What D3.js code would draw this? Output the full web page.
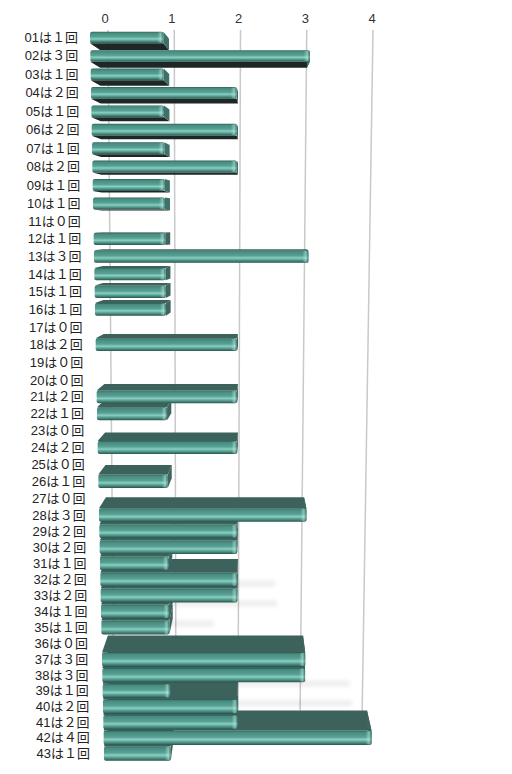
<!DOCTYPE html>
<html>
<head>
<meta charset="utf-8">
<script src="https://cdn.jsdelivr.net/npm/d3@7"></script>
<style>
  html, body { margin: 0; padding: 0; background: #fff; }
  svg { display: block; }
  text { font-family: "Liberation Sans", "Noto Sans CJK JP", sans-serif; }
</style>
</head>
<body>
<svg id="chart" width="512" height="774"></svg>
<script>
// ---- data ----
const categories = ["01","02","03","04","05","06","07","08","09","10",
  "11","12","13","14","15","16","17","18","19","20",
  "21","22","23","24","25","26","27","28","29","30",
  "31","32","33","34","35","36","37","38","39","40",
  "41","42","43"];
const counts = [1,3,1,2,1,2,1,2,1,1,
  0,1,3,1,1,1,0,2,0,0,
  2,1,0,2,0,1,0,3,2,2,
  1,2,2,1,1,0,3,3,1,2,
  2,4,1];
const tickValues = [0,1,2,3,4];
const tickLabels = ["0","1","2","3","4"];

const fw = v => String.fromCharCode(0xFF10 + v);
const labelText = (c, v) => c + "は" + fw(v) + "回";

// ---- perspective-like scales (row index -> geometry) ----
const n = categories.length - 1;
const rowY = d3.scaleLinear().domain([0,9,19,27,31,36,42]).range([37.5,203.5,380,515,579.5,659.5,753.5]);
const rowH = d3.scaleLinear().domain([0,n]).range([11.5,14.5]);
const frontLeft = d3.scaleLinear().domain([0,n]).range([90,104]);
const frontUnit = d3.scaleLinear().domain([0,n]).range([73.3,66.8]);
const backLeft = d3.scaleLinear().domain([0,n]).range([100,109.2]);
const backUnit = d3.scaleLinear().domain([0,n]).range([69,64.4]);
const depthY = d3.scaleLinear().domain([0,n]).range([6.8,-20.9]);
const labelEnd = d3.scaleLinear().domain([0,n]).range([78,90]);
const shadowDX = d3.scaleLinear().domain([30,n]).range([35,59]);
const shadowDY = d3.scaleLinear().domain([30,n]).range([0,48]);

const maxV = d3.max(tickValues);
const xFront = i => d3.scaleLinear().domain([0,maxV]).range([frontLeft(i), frontLeft(i) + maxV*frontUnit(i)]);
const xBack  = i => d3.scaleLinear().domain([0,maxV]).range([backLeft(i), backLeft(i) + maxV*backUnit(i)]);

const gridTopY = 30, gridBotY = 722;
const gridTop = d3.scaleLinear().domain([0,maxV]).range([108,373]);
const gridBot = d3.scaleLinear().domain([0,maxV]).range([114,362]);
const tickX = d3.scaleLinear().domain([0,maxV]).range([105,372]);

const svg = d3.select("#chart");
const defs = svg.append("defs");

const fg = defs.append("linearGradient").attr("id","frontGrad").attr("x1",0).attr("y1",0).attr("x2",0).attr("y2",1);
[[0,"#2c5b54"],[0.1,"#468a7e"],[0.45,"#58a194"],[0.62,"#8ad0c2"],[0.74,"#62ab9d"],[0.9,"#3d786e"],[1,"#2a514a"]]
  .forEach(([o,c]) => fg.append("stop").attr("offset",o).attr("stop-color",c));

const eg = defs.append("linearGradient").attr("id","endGrad").attr("x1",0).attr("y1",0).attr("x2",1).attr("y2",0);
[[0,"#bff5ea",0],[0.6,"#bff5ea",0.5],[1,"#1f4a44",0.45]]
  .forEach(([o,c,a]) => eg.append("stop").attr("offset",o).attr("stop-color",c).attr("stop-opacity",a));

defs.append("filter").attr("id","blur").attr("x","-20%").attr("y","-200%").attr("width","140%").attr("height","500%")
  .append("feGaussianBlur").attr("stdDeviation",2.2);
defs.append("clipPath").attr("id","wallClip").append("rect")
  .attr("x",0).attr("y",gridTopY).attr("width",512).attr("height",gridBotY-gridTopY);

// ---- tick labels ----
svg.append("g").selectAll("text").data(tickValues).join("text")
  .attr("x", d => tickX(d)).attr("y", 18)
  .attr("text-anchor","middle").attr("dominant-baseline","central")
  .attr("font-size",13).attr("fill","#333")
  .text((d,k) => tickLabels[k]);

// ---- gridlines on wall ----
svg.append("g").selectAll("line").data(tickValues).join("line")
  .attr("x1", d => gridTop(d)).attr("y1", gridTopY)
  .attr("x2", d => gridBot(d)).attr("y2", gridBotY)
  .attr("stroke","#c9c9c9").attr("stroke-width",1.5);

// ---- faint shadows on wall ----
const rows = counts.map((v,i) => ({v, i, c: categories[i]}));
svg.append("g").attr("clip-path","url(#wallClip)")
  .selectAll("rect").data(rows.filter(r => r.v > 0 && r.i >= 30)).join("rect")
  .attr("x", r => xBack(r.i)(0))
  .attr("y", r => rowY(r.i) + shadowDY(r.i) - 3)
  .attr("width", r => xBack(r.i)(r.v) - xBack(r.i)(0) + shadowDX(r.i))
  .attr("height", 6)
  .attr("fill","#000").attr("opacity",0.07).attr("filter","url(#blur)");

// ---- bars ----
const upper = rows.filter(r => depthY(r.i) >= 0);
const lower = rows.filter(r => depthY(r.i) < 0).reverse();
const order = upper.concat(lower).filter(r => r.v > 0);

const barG = svg.append("g");
order.forEach(r => {
  const i = r.i, v = r.v;
  const fx = xFront(i), bx = xBack(i);
  const h = rowH(i), yc = rowY(i);
  const y0 = yc - h/2, y1 = yc + h/2;
  const dy = depthY(i);
  const by0 = y0 + dy, by1 = y1 + dy;
  const g = barG.append("g");
  const line = d3.line();
  if (dy >= 0) {
    g.append("path").attr("d", line([[fx(0),y1],[fx(v),y1],[bx(v),by1],[bx(0),by1]]) + "Z")
      .attr("fill","#1d2826");
  } else {
    g.append("path").attr("d", line([[fx(0),y0],[fx(v),y0],[bx(v),by0],[bx(0),by0]]) + "Z")
      .attr("fill","#3d615b");
  }
  g.append("path").attr("d", line([[fx(v),y0],[bx(v),by0],[bx(v),by1],[fx(v),y1]]) + "Z")
    .attr("fill", dy >= 0 ? "#3f7169" : "#3f655f");
  g.append("rect").attr("x", fx(0)).attr("y", y0)
    .attr("width", fx(v) - fx(0)).attr("height", h).attr("rx", 2)
    .attr("fill","url(#frontGrad)");
  g.append("rect").attr("x", fx(v) - 6).attr("y", y0 + 0.5)
    .attr("width", 6).attr("height", h - 1).attr("rx", 2)
    .attr("fill","url(#endGrad)");
});

// ---- category labels ----
svg.append("g").selectAll("text").data(rows).join("text")
  .attr("x", r => labelEnd(r.i)).attr("y", r => rowY(r.i))
  .attr("text-anchor","end").attr("dominant-baseline","central")
  .attr("font-size",13).attr("fill","#222")
  .text(r => labelText(r.c, r.v));
</script>
</body>
</html>
